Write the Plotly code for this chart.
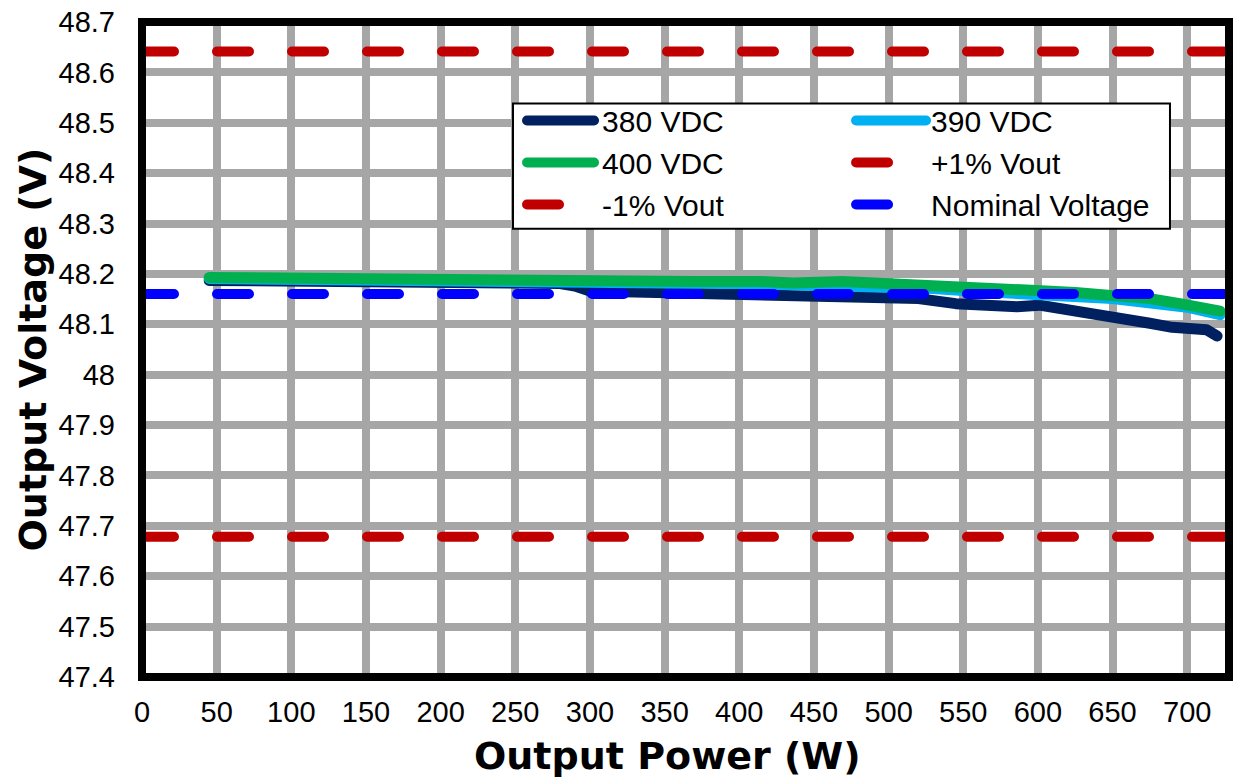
import plotly.graph_objects as go

# ---------------- data ----------------
x_380 = [45, 100, 150, 200, 250, 280, 290, 300, 330, 369, 400, 436, 460, 480, 501, 520,
         545, 570, 586, 601, 620, 635, 657, 675, 690, 700, 713, 720]
v_380 = [48.187, 48.186, 48.187, 48.185, 48.182, 48.181, 48.176, 48.166, 48.164, 48.162,
         48.161, 48.159, 48.157, 48.155, 48.154, 48.151, 48.141, 48.137, 48.135, 48.138,
         48.130, 48.124, 48.112, 48.102, 48.094, 48.092, 48.089, 48.077]

x_390 = [45, 100, 150, 200, 250, 300, 350, 400, 450, 490, 530, 550, 600, 650, 700, 722]
v_390 = [48.191, 48.190, 48.191, 48.189, 48.186, 48.184, 48.182, 48.181, 48.179, 48.176,
         48.171, 48.167, 48.161, 48.151, 48.134, 48.119]

x_400 = [45, 70, 100, 125, 148, 170, 188, 221, 255, 286, 320, 369, 414, 436, 469, 507,
         527, 545, 575, 599, 625, 648, 675, 697, 722]
v_400 = [48.193, 48.192, 48.192, 48.193, 48.194, 48.192, 48.190, 48.191, 48.188, 48.187,
         48.187, 48.185, 48.185, 48.182, 48.185, 48.181, 48.180, 48.173, 48.170, 48.167,
         48.163, 48.158, 48.151, 48.140, 48.126]

x_limits = [0, 728]
nominal_v = 48.16
plus_1pct = 48.6416
minus_1pct = 47.6784

x_ticks = [0, 50, 100, 150, 200, 250, 300, 350, 400, 450, 500, 550, 600, 650, 700]
y_ticks = [47.4, 47.5, 47.6, 47.7, 47.8, 47.9, 48.0, 48.1, 48.2, 48.3, 48.4, 48.5, 48.6, 48.7]
y_tick_text = ["47.4", "47.5", "47.6", "47.7", "47.8", "47.9", "48", "48.1", "48.2",
               "48.3", "48.4", "48.5", "48.6", "48.7"]

# ---------------- figure ----------------
FONT = "Liberation Sans, Arial, sans-serif"
TITLE_FONT = "DejaVu Sans, Verdana, sans-serif"
LW = 11
DASH = "32px,43px"

fig = go.Figure()
fig.add_trace(go.Scatter(x=x_380, y=v_380, mode="lines", name="380 VDC",
                         line=dict(color="#002060", width=LW), legend="legend"))
fig.add_trace(go.Scatter(x=x_390, y=v_390, mode="lines", name="390 VDC",
                         line=dict(color="#00B0F0", width=LW), legend="legend2"))
fig.add_trace(go.Scatter(x=x_400, y=v_400, mode="lines", name="400 VDC",
                         line=dict(color="#00B050", width=LW), legend="legend"))
fig.add_trace(go.Scatter(x=x_limits, y=[plus_1pct] * 2, mode="lines", name="+1% Vout",
                         line=dict(color="#C00000", width=10, dash=DASH), legend="legend2"))
fig.add_trace(go.Scatter(x=x_limits, y=[minus_1pct] * 2, mode="lines", name="-1% Vout",
                         line=dict(color="#C00000", width=10, dash=DASH), legend="legend"))
fig.add_trace(go.Scatter(x=x_limits, y=[nominal_v] * 2, mode="lines", name="Nominal Voltage",
                         line=dict(color="#0000FF", width=10, dash=DASH), legend="legend2"))

leg_common = dict(orientation="v", yanchor="top", xanchor="left", y=0.8892,
                  bgcolor="rgba(0,0,0,0)", borderwidth=0, itemwidth=70,
                  font=dict(family=FONT, size=30, color="black"), tracegroupgap=0)

fig.update_layout(
    width=1235, height=782,
    margin=dict(l=142, r=6, t=18, b=105),
    paper_bgcolor="white", plot_bgcolor="white",
    showlegend=True,
    legend=dict(x=0.3496, **leg_common),
    legend2=dict(x=0.6523, **leg_common),
    xaxis=dict(range=x_limits, tickvals=x_ticks, showgrid=True, gridcolor="#A6A6A6",
               gridwidth=7.5, zeroline=False, showline=False, ticks="",
               ticklabelstandoff=15,
               tickfont=dict(family=FONT, size=29, color="black")),
    yaxis=dict(range=[y_ticks[0], y_ticks[-1]], tickvals=y_ticks, ticktext=y_tick_text,
               showgrid=True, gridcolor="#A6A6A6", gridwidth=7.5, zeroline=False,
               showline=False, ticks="", ticklabelstandoff=26,
               tickfont=dict(family=FONT, size=29, color="black")),
    shapes=[
        dict(type="rect", xref="paper", yref="paper", x0=0.3413, x1=0.9457, y0=0.6844, y1=0.8756,
             line=dict(color="black", width=2), fillcolor="white", layer="above"),
        dict(type="rect", xref="paper", yref="paper", x0=0, x1=1, y0=0, y1=1,
             line=dict(color="black", width=8), fillcolor="rgba(0,0,0,0)", layer="above"),
    ],
    annotations=[
        dict(text="<b>Output Power (W)</b>", xref="paper", yref="paper", x=0.483, y=-0.1199,
             xanchor="center", yanchor="middle", showarrow=False,
             font=dict(family=TITLE_FONT, size=38, color="black")),
        dict(text="<b>Output Voltage (V)</b>", xref="paper", yref="paper", x=-0.1003, y=0.5,
             xanchor="center", yanchor="middle", textangle=-90, showarrow=False,
             font=dict(family=TITLE_FONT, size=38, color="black")),
    ],
)

post = """
var gd = document.getElementById('{plot_id}');
function fixLines(){
  document.querySelectorAll('path.js-line').forEach(function(p){
    p.style.strokeLinecap = 'round';
    p.style.strokeLinejoin = 'round';
  });
  document.querySelectorAll('.legend path.js-line').forEach(function(p){
    p.setAttribute('d', 'M5,0h67');
  });
}
fixLines();
if (gd && gd.on) { gd.on('plotly_afterplot', fixLines); }
"""

fig.write_html("out.html", post_script=post)
